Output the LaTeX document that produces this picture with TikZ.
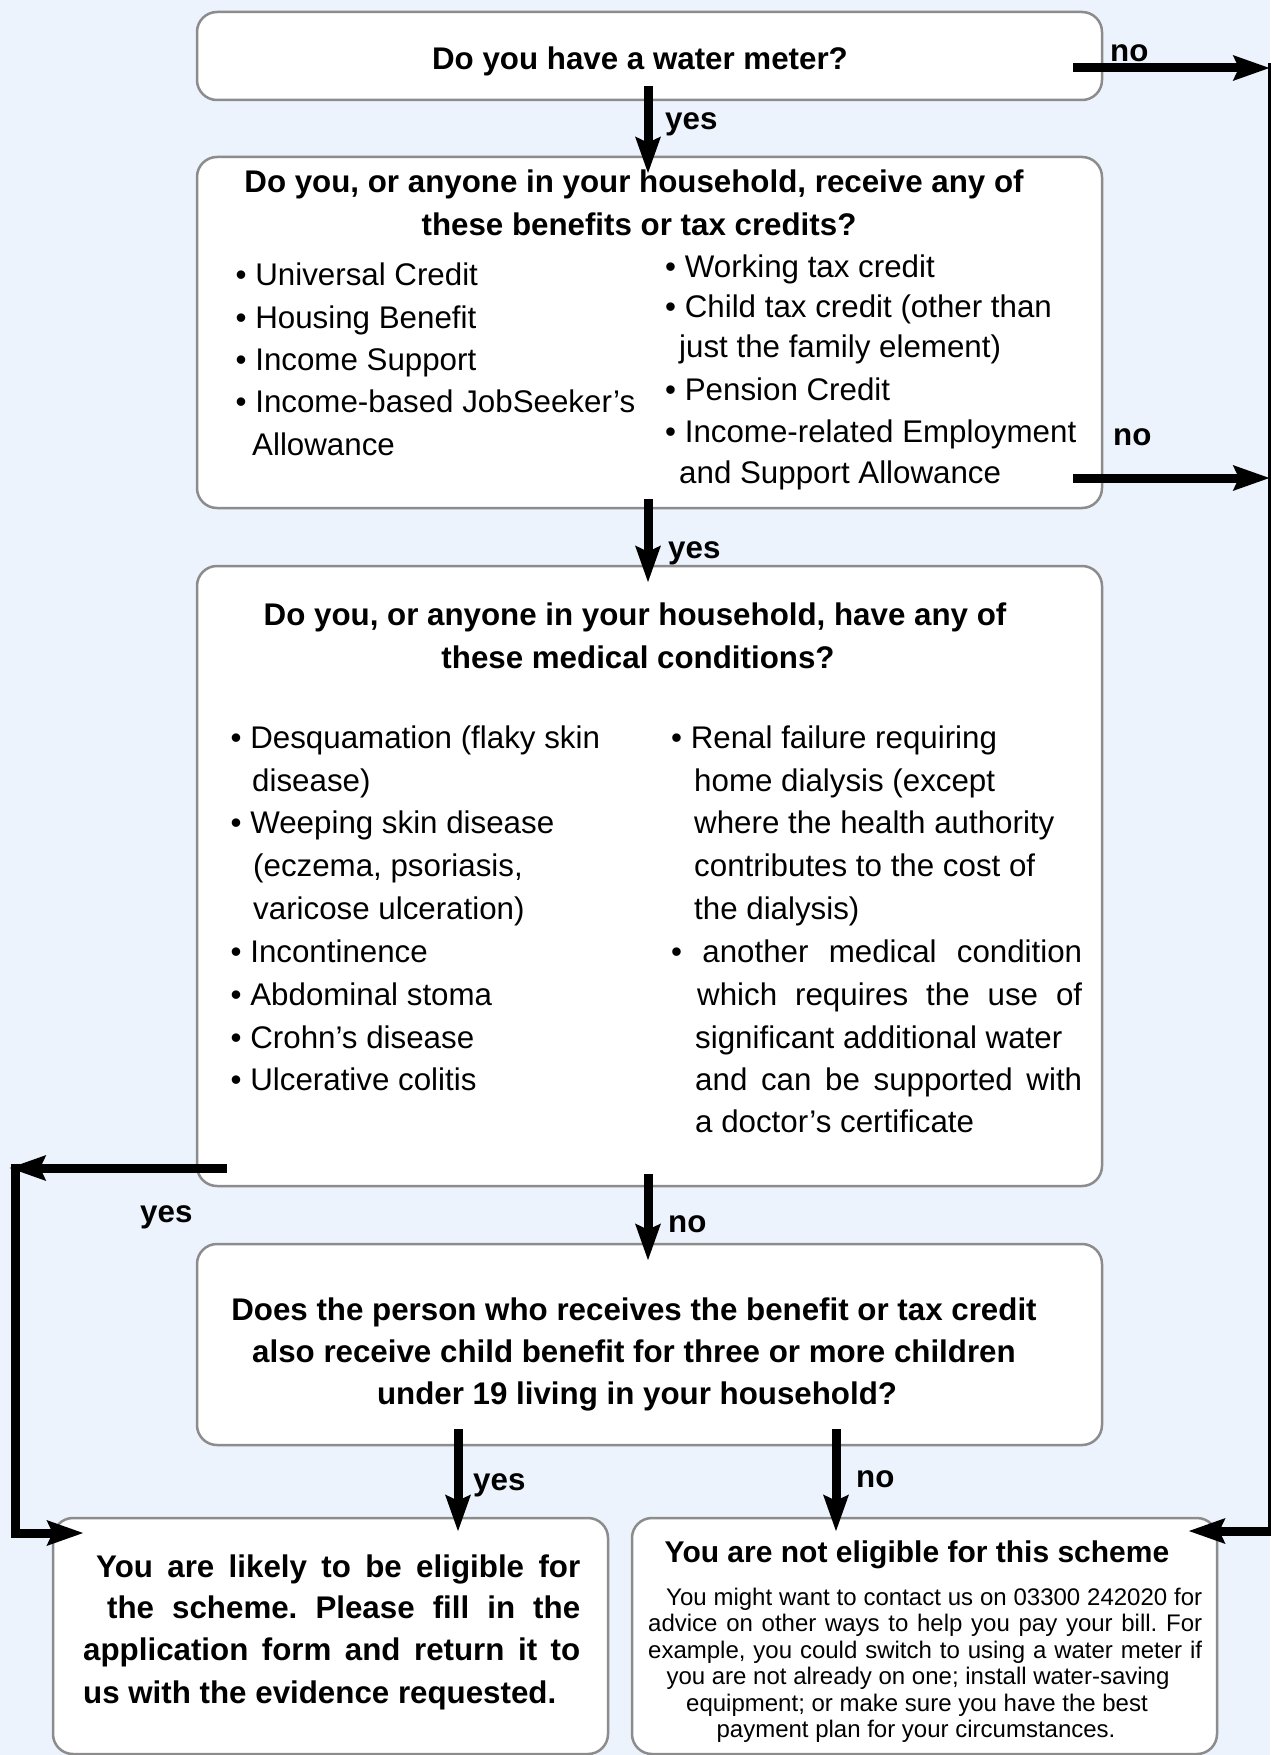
\documentclass[tikz,border=0pt]{standalone}
\usepackage{fontspec}
\setmainfont{Liberation Sans}
\usetikzlibrary{arrows.meta}
\definecolor{bg}{HTML}{EDF3FC}
\definecolor{boxline}{HTML}{8C8C8C}
\frenchspacing
\begin{document}
\begin{tikzpicture}[x=1pt,y=-1pt,
  box/.style={draw=boxline, line width=2.5pt, fill=white, rounded corners=20pt, inner sep=0pt},
  conn/.style={line width=9pt, -{Stealth[length=36pt,width=24pt,inset=5pt]}},
  lbl/.style={font=\fontsize{31.3}{37}\selectfont\bfseries, anchor=base west, inner sep=0pt},
  ttl/.style={font=\fontsize{31.3}{37}\selectfont\bfseries, anchor=base, inner sep=0pt},
  itm/.style={font=\fontsize{31.3}{37}\selectfont, anchor=base west, inner sep=0pt},
  bld/.style={font=\fontsize{31.3}{37}\selectfont\bfseries, anchor=base west, inner sep=0pt},
  sml/.style={font=\fontsize{24}{27}\selectfont, anchor=base west, inner sep=0pt},
  smlc/.style={font=\fontsize{24}{27}\selectfont, anchor=base, inner sep=0pt},
]
\useasboundingbox (0,0) rectangle (1270,1755);
\fill[bg] (0,0) rectangle (1270,1755);

% boxes
\node[box, minimum width=905pt, minimum height=88pt]  (q1) at (649.5,56) {};
\node[box, minimum width=905pt, minimum height=351pt] (q2) at (649.5,332.5) {};
\node[box, minimum width=905pt, minimum height=620pt] (q3) at (649.5,876) {};
\node[box, minimum width=905pt, minimum height=201pt] (q4) at (649.5,1344.5) {};
\node[box, minimum width=555pt, minimum height=236pt] (r1) at (330.5,1636) {};
\node[box, minimum width=585pt, minimum height=236pt] (r2) at (924.5,1636) {};

% texts box 1
\node[ttl] (t1) at (640,70) {Do you have a water meter?};

% box 2
\node[ttl] (t2a) at (634,193) {Do you, or anyone in your household, receive any of};
\node[ttl] (t2b) at (639,235) {these benefits or tax credits?};
\node[itm] (b2l1) at (235.5,285) {• Universal Credit};
\node[itm] (b2l2) at (235.5,328) {• Housing Benefit};
\node[itm] (b2l3) at (235.5,370) {• Income Support};
\node[itm] (b2l4) at (235.5,412) {• Income-based JobSeeker’s};
\node[itm] (b2l5) at (252,455) {Allowance};
\node[itm] (b2r1) at (665,277) {• Working tax credit};
\node[itm] (b2r2) at (665,317) {• Child tax credit (other than};
\node[itm] (b2r3) at (679,357) {just the family element)};
\node[itm] (b2r4) at (665,400) {• Pension Credit};
\node[itm] (b2r5) at (665,442) {• Income-related Employment};
\node[itm] (b2r6) at (679,483) {and Support Allowance};

% box 3
\node[ttl] (t3a) at (635,625) {Do you, or anyone in your household, have any of};
\node[ttl] (t3b) at (638,668) {these medical conditions?};
\node[itm] (b3l1) at (230.5,748) {• Desquamation (flaky skin};
\node[itm] (b3l2) at (252,791) {disease)};
\node[itm] (b3l3) at (230.5,833) {• Weeping skin disease};
\node[itm] (b3l4) at (253,876) {(eczema, psoriasis,};
\node[itm] (b3l5) at (253,919) {varicose ulceration)};
\node[itm] (b3l6) at (230.5,962) {• Incontinence};
\node[itm] (b3l7) at (230.5,1005) {• Abdominal stoma};
\node[itm] (b3l8) at (230.5,1048) {• Crohn’s disease};
\node[itm] (b3l9) at (230.5,1090) {• Ulcerative colitis};
\node[itm] (b3r1) at (671,748) {• Renal failure requiring};
\node[itm] (b3r2) at (694,791) {home dialysis (except};
\node[itm] (b3r3) at (694,833) {where the health authority};
\node[itm] (b3r4) at (694,876) {contributes to the cost of};
\node[itm] (b3r5) at (694,919) {the dialysis)};
\node[itm] (b3r6) at (671,962) {\makebox[411pt][s]{• another medical condition}};
\node[itm] (b3r7) at (697,1005) {\makebox[385pt][s]{which requires the use of}};
\node[itm] (b3r8) at (695,1048) {significant additional water};
\node[itm] (b3r9) at (695,1090) {\makebox[387pt][s]{and can be supported with}};
\node[itm] (b3r10) at (695,1132) {a doctor’s certificate};

% box 4
\node[ttl] (t4a) at (634,1320) {Does the person who receives the benefit or tax credit};
\node[ttl] (t4b) at (634,1362) {also receive child benefit for three or more children};
\node[ttl] (t4c) at (637,1404) {under 19 living in your household?};

% box 5
\node[bld] (t5a) at (96,1577) {\makebox[484pt][s]{You are likely to be eligible for}};
\node[bld] (t5b) at (107,1618) {\makebox[473pt][s]{the scheme. Please fill in the}};
\node[bld] (t5c) at (83,1660) {\makebox[497pt][s]{application form and return it to}};
\node[bld] (t5d) at (83,1703) {us with the evidence requested.};

% box 6
\node[font=\fontsize{30}{36}\selectfont\bfseries, anchor=base, inner sep=0pt] (t6) at (917,1562) {You are not eligible for this scheme};
\node[sml] (t6a) at (666,1605) {\makebox[536pt][s]{You might want to contact us on 03300 242020 for}};
\node[sml] (t6b) at (648,1631) {\makebox[554pt][s]{advice on other ways to help you pay your bill. For}};
\node[sml] (t6c) at (648,1658) {\makebox[554pt][s]{example, you could switch to using a water meter if}};
\node[smlc] (t6d) at (918,1684) {you are not already on one; install water-saving};
\node[smlc] (t6e) at (917,1711) {equipment; or make sure you have the best};
\node[smlc] (t6f) at (916,1737) {payment plan for your circumstances.};

% corner coordinates
\coordinate (trtip) at (1270,68);
\coordinate (trtop) at (1272,63.5);
\coordinate (no2tip) at (1270,478);
\coordinate (tltip) at (9,1168);
\coordinate (tltop) at (15,1163.5);

% connectors
\draw[conn] ([xshift=-1.5pt,yshift=15pt]q1.south) -- ([xshift=-1.5pt,yshift=-18pt]q2.north);
\draw[conn] ([xshift=-30pt,yshift=-12pt]q1.east) -- (trtip);
\draw[conn] ([xshift=-30pt,yshift=-145.5pt]q2.east) -- (no2tip);
\draw[conn] ([xshift=-1.5pt,yshift=10pt]q2.south) -- ([xshift=-1.5pt,yshift=-18pt]q3.north);
\draw[conn] ([xshift=-1.5pt,yshift=13pt]q3.south) -- ([xshift=-1.5pt,yshift=-18pt]q4.north);
\draw[conn] ([xshift=31pt,yshift=-292pt]q3.west) -- (tltip);
\draw[conn] (tltop) |- ([xshift=32pt,yshift=103pt]r1.west);
\draw[conn] (trtop) |- ([xshift=-30pt,yshift=105pt]r2.east);
\draw[conn] ([xshift=-191.5pt,yshift=17pt]q4.south) -- ([xshift=127.5pt,yshift=-15pt]r1.north);
\draw[conn] ([xshift=186.5pt,yshift=17pt]q4.south) -- ([xshift=-88.5pt,yshift=-15pt]r2.north);

% connector labels
\node[lbl] (l1) at (665,130) {yes};
\node[lbl] (l2) at (1110,62) {no};
\node[lbl] (l3) at (1113,445) {no};
\node[lbl] (l4) at (668,558) {yes};
\node[lbl] (l5) at (668,1232) {no};
\node[lbl] (l6) at (140,1222) {yes};
\node[lbl] (l7) at (473,1490) {yes};
\node[lbl] (l8) at (856,1487) {no};
\end{tikzpicture}
\end{document}
